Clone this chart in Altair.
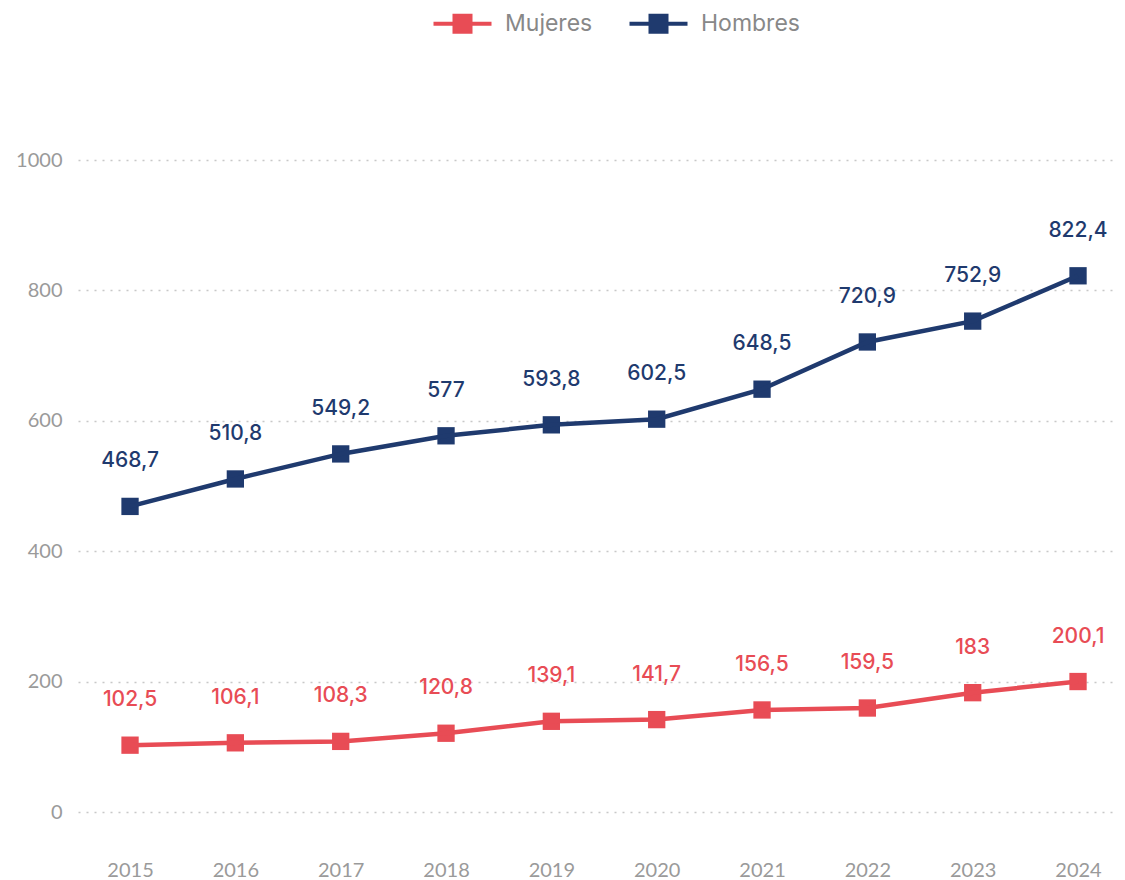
import altair as alt
import pandas as pd

years = [2015, 2016, 2017, 2018, 2019, 2020, 2021, 2022, 2023, 2024]
mujeres = [102.5, 106.1, 108.3, 120.8, 139.1, 141.7, 156.5, 159.5, 183, 200.1]
hombres = [468.7, 510.8, 549.2, 577, 593.8, 602.5, 648.5, 720.9, 752.9, 822.4]
series = ["Mujeres", "Hombres"]
colors = ["#e84c55", "#1f3a6e"]
y_ticks = [0, 200, 400, 600, 800, 1000]

rows = []
for name, vals in zip(series, [mujeres, hombres]):
    for yr, v in zip(years, vals):
        rows.append({"year": yr, "value": v, "serie": name,
                     "label": f"{v:g}".replace(".", ",")})
df = pd.DataFrame(rows)

x = alt.X("year:Q", title=None,
          scale=alt.Scale(domain=[2014.506, 2024.37], nice=False, zero=False),
          axis=alt.Axis(values=years, format="d", labelAngle=0, domain=False,
                        ticks=False, grid=False, labelPadding=48,
                        labelFont="Lato", labelFontSize=20, labelColor="#9a9a9a",
                        labelFlush=False))
y = alt.Y("value:Q", title=None,
          scale=alt.Scale(domain=[0, 1000], nice=False, zero=True),
          axis=alt.Axis(values=y_ticks, format="d", domain=False, ticks=False, grid=True,
                        gridDash=[2, 6], gridColor="#c8c8c8", gridWidth=1.5,
                        labelPadding=16, labelFont="Lato", labelFontSize=20,
                        labelColor="#9a9a9a"))
color_scale = alt.Scale(domain=series, range=colors)

legend_path = ("M-2.9,-0.2 H2.9 V0.2 H-2.9 Z "
               "M-1,-1 H1 V1 H-1 Z")

points = alt.Chart(df).mark_point(shape="square", filled=True, size=300, opacity=1).encode(
    x=x, y=y,
    color=alt.Color("serie:N", scale=color_scale, sort=series,
                    legend=alt.Legend(title=None, orient="none", direction="horizontal",
                                      legendX=373, legendY=-148,
                                      symbolType=legend_path, symbolSize=400,
                                      symbolStrokeWidth=0, symbolOpacity=1,
                                      labelOffset=31, columnPadding=36,
                                      labelFont="Inter", labelFontSize=23,
                                      labelFontWeight=400,
                                      labelColor="#888888")))

line = alt.Chart(df).mark_line(strokeWidth=4.5).encode(
    x=x, y=y,
    color=alt.Color("serie:N", scale=color_scale, legend=None),
    detail="serie:N")

labels = alt.Chart(df).mark_text(dy=-45, font="Inter", fontSize=21, fontWeight=500,
                                 baseline="middle").encode(
    x=x, y=y, text="label:N",
    color=alt.Color("serie:N", scale=color_scale, legend=None))

chart = alt.layer(points, line, labels).properties(
    width=1039, height=652,
    background="white",
    autosize=alt.AutoSizeParams(type="none"),
    padding={"left": 70, "top": 152, "right": 0, "bottom": 70},
).configure_view(stroke=None)

chart.save("out.html", embed_options={"renderer": "svg", "actions": False})
